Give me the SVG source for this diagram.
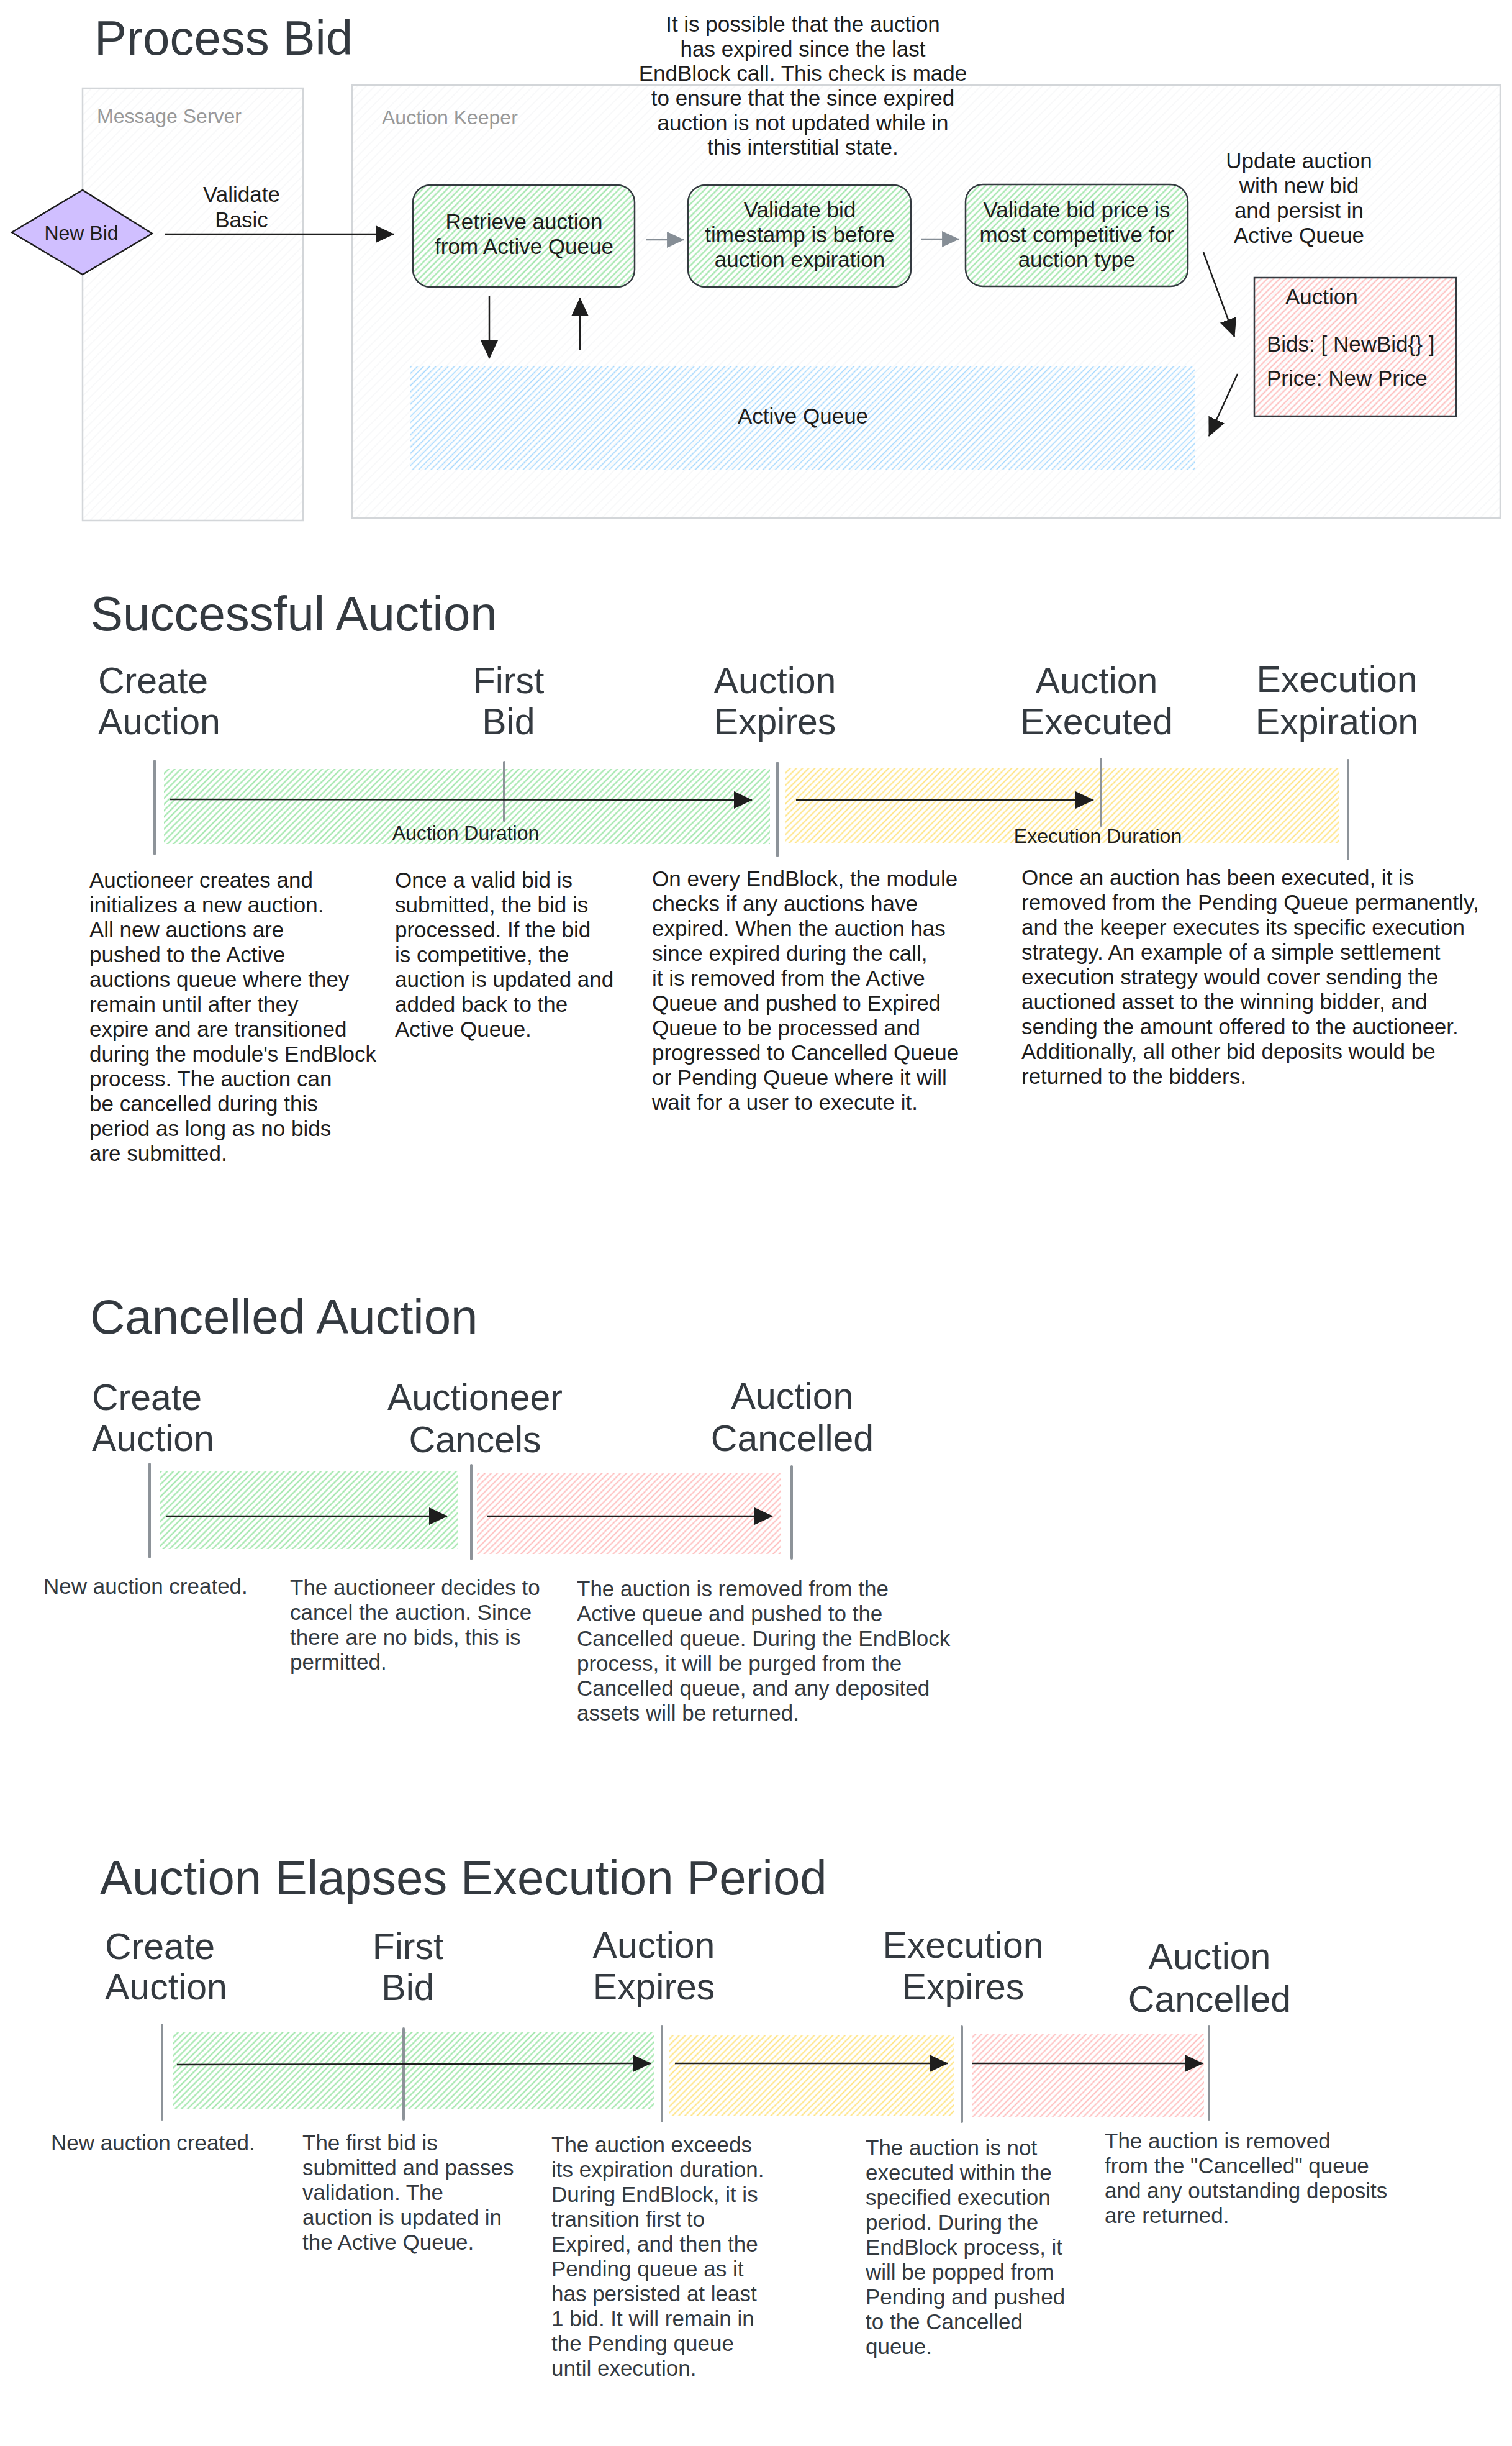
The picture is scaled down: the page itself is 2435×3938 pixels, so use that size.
<svg xmlns="http://www.w3.org/2000/svg" width="2435" height="3938" viewBox="0 0 2435 3938">
<defs>
<pattern id="hG" width="7" height="7" patternUnits="userSpaceOnUse" patternTransform="rotate(45)"><line x1="3.5" y1="0" x2="3.5" y2="7" stroke="#9fe6aa" stroke-width="2.2"/></pattern>
<pattern id="hR" width="7" height="7" patternUnits="userSpaceOnUse" patternTransform="rotate(45)"><line x1="3.5" y1="0" x2="3.5" y2="7" stroke="#ffbcbc" stroke-width="2"/></pattern>
<pattern id="hY" width="7" height="7" patternUnits="userSpaceOnUse" patternTransform="rotate(45)"><line x1="3.5" y1="0" x2="3.5" y2="7" stroke="#ffe37f" stroke-width="2"/></pattern>
<pattern id="hB" width="7" height="7" patternUnits="userSpaceOnUse" patternTransform="rotate(45)"><line x1="3.5" y1="0" x2="3.5" y2="7" stroke="#a5d8ff" stroke-width="1.6"/></pattern>
<pattern id="hK" width="10" height="10" patternUnits="userSpaceOnUse" patternTransform="rotate(45)"><line x1="5" y1="0" x2="5" y2="10" stroke="#f1f2f4" stroke-width="1"/></pattern>
<marker id="ah" viewBox="0 0 30 28" refX="29" refY="14" markerWidth="30" markerHeight="28" markerUnits="userSpaceOnUse" orient="auto"><path d="M0,0 L30,14 L0,28 Z" fill="#1e1e1e"/></marker>
<marker id="ahG" viewBox="0 0 30 28" refX="29" refY="14" markerWidth="30" markerHeight="26" markerUnits="userSpaceOnUse" orient="auto"><path d="M0,0 L30,14 L0,28 Z" fill="#868e96"/></marker>
<style>
text{font-family:"Liberation Sans",Arial,sans-serif;fill:#1e1e1e}
.ti{font-size:78px;fill:#343a40}
.hd{font-size:59px;fill:#343a40}
.bd{font-size:35px}
.lb{font-size:32px;fill:#999999}
.c{text-anchor:middle}
.dk{fill:#343a40}
.arr{fill:none;stroke:#1e1e1e;stroke-width:2.5;marker-end:url(#ah)}
.arrg{fill:none;stroke:#868e96;stroke-width:2.5;marker-end:url(#ahG)}
.tick{stroke:#8d9399;stroke-width:4;stroke-linecap:round}
.box{stroke:#343a40;stroke-width:2.5}
.lane{fill:url(#hK);stroke:#d3d6d9;stroke-width:2.5}
</style>
</defs>
<rect width="2435" height="3938" fill="#ffffff"/>

<!-- ===== Process Bid ===== -->
<text class="ti" x="152" y="88">Process Bid</text>

<g id="lane-message-server">
<rect class="lane" x="133" y="142" width="355" height="696"/>
<text class="lb" x="156" y="198">Message Server</text>
</g>
<g id="lane-auction-keeper">
<rect class="lane" x="567" y="137" width="1849" height="697"/>
<text class="lb" x="615" y="200">Auction Keeper</text>
</g>

<g id="note-expired">
<text class="bd c" x="1293" y="51">It is possible that the auction</text>
<text class="bd c" x="1293" y="91">has expired since the last</text>
<text class="bd c" x="1293" y="130">EndBlock call. This check is made</text>
<text class="bd c" x="1293" y="170">to ensure that the since expired</text>
<text class="bd c" x="1293" y="210">auction is not updated while in</text>
<text class="bd c" x="1293" y="249">this interstitial state.</text>
</g>

<g id="node-new-bid">
<polygon points="19,374 133,306 245,376 133,442" fill="#d0bfff" stroke="#1e1e1e" stroke-width="2.5"/>
<text class="c" x="131" y="386" font-size="32">New Bid</text>
</g>

<g id="label-validate-basic">
<text class="bd c" x="389" y="325">Validate</text>
<text class="bd c" x="389" y="366">Basic</text>
</g>

<g id="node-retrieve">
<rect class="box" x="665" y="298" width="357" height="164" rx="28" fill="url(#hG)"/>
<text class="bd c" x="844" y="369">Retrieve auction</text>
<text class="bd c" x="844" y="409">from Active Queue</text>
</g>

<g id="node-validate-timestamp">
<rect class="box" x="1108" y="298" width="359" height="164" rx="28" fill="url(#hG)"/>
<text class="bd c" x="1288" y="350">Validate bid</text>
<text class="bd c" x="1288" y="390">timestamp is before</text>
<text class="bd c" x="1288" y="430">auction expiration</text>
</g>

<g id="node-validate-price">
<rect class="box" x="1555" y="297" width="358" height="164" rx="28" fill="url(#hG)"/>
<text class="bd c" x="1734" y="350">Validate bid price is</text>
<text class="bd c" x="1734" y="390">most competitive for</text>
<text class="bd c" x="1734" y="430">auction type</text>
</g>

<g id="label-update">
<text class="bd c" x="2092" y="271">Update auction</text>
<text class="bd c" x="2092" y="311">with new bid</text>
<text class="bd c" x="2092" y="351">and persist in</text>
<text class="bd c" x="2092" y="391">Active Queue</text>
</g>

<g id="node-auction">
<rect class="box" x="2020" y="447" width="325" height="223" fill="url(#hR)"/>
<text class="bd" x="2070" y="490">Auction</text>
<text class="bd" x="2040" y="566">Bids: [ NewBid{} ]</text>
<text class="bd" x="2040" y="621">Price: New Price</text>
</g>

<g id="node-active-queue">
<rect x="661" y="590" width="1263" height="166" fill="url(#hB)"/>
<text class="bd c" x="1293" y="682">Active Queue</text>
</g>

<!-- ===== Successful Auction ===== -->
<text class="ti" x="146" y="1015">Successful Auction</text>

<g id="sa-band-auction">
<rect x="264" y="1238" width="976" height="121" fill="url(#hG)"/>
<text class="c" x="750" y="1352" font-size="32">Auction Duration</text>
</g>
<g id="sa-band-execution">
<rect x="1265" y="1237" width="892" height="120" fill="url(#hY)"/>
<text class="c" x="1768" y="1357" font-size="32">Execution Duration</text>
</g>

<g id="sa-create">
<text class="hd" x="158" y="1116">Create</text>
<text class="hd" x="158" y="1182">Auction</text>
<line class="tick" x1="249" y1="1225" x2="249" y2="1375"/>
<text class="bd" x="144" y="1429">Auctioneer creates and</text>
<text class="bd" x="144" y="1469">initializes a new auction.</text>
<text class="bd" x="144" y="1509">All new auctions are</text>
<text class="bd" x="144" y="1549">pushed to the Active</text>
<text class="bd" x="144" y="1589">auctions queue where they</text>
<text class="bd" x="144" y="1629">remain until after they</text>
<text class="bd" x="144" y="1669">expire and are transitioned</text>
<text class="bd" x="144" y="1709">during the module's EndBlock</text>
<text class="bd" x="144" y="1749">process. The auction can</text>
<text class="bd" x="144" y="1789">be cancelled during this</text>
<text class="bd" x="144" y="1829">period as long as no bids</text>
<text class="bd" x="144" y="1869">are submitted.</text>
</g>

<g id="sa-first-bid">
<text class="hd c" x="819" y="1116">First</text>
<text class="hd c" x="819" y="1182">Bid</text>
<line class="tick" x1="812" y1="1227" x2="812" y2="1321"/>
<text class="bd" x="636" y="1429">Once a valid bid is</text>
<text class="bd" x="636" y="1469">submitted, the bid is</text>
<text class="bd" x="636" y="1509">processed. If the bid</text>
<text class="bd" x="636" y="1549">is competitive, the</text>
<text class="bd" x="636" y="1589">auction is updated and</text>
<text class="bd" x="636" y="1629">added back to the</text>
<text class="bd" x="636" y="1669">Active Queue.</text>
</g>

<g id="sa-expires">
<text class="hd c" x="1248" y="1116">Auction</text>
<text class="hd c" x="1248" y="1182">Expires</text>
<line class="tick" x1="1252" y1="1228" x2="1252" y2="1378"/>
<text class="bd" x="1050" y="1427">On every EndBlock, the module</text>
<text class="bd" x="1050" y="1467">checks if any auctions have</text>
<text class="bd" x="1050" y="1507">expired. When the auction has</text>
<text class="bd" x="1050" y="1547">since expired during the call,</text>
<text class="bd" x="1050" y="1587">it is removed from the Active</text>
<text class="bd" x="1050" y="1627">Queue and pushed to Expired</text>
<text class="bd" x="1050" y="1667">Queue to be processed and</text>
<text class="bd" x="1050" y="1707">progressed to Cancelled Queue</text>
<text class="bd" x="1050" y="1747">or Pending Queue where it will</text>
<text class="bd" x="1050" y="1787">wait for a user to execute it.</text>
</g>

<g id="sa-executed">
<text class="hd c" x="1766" y="1116">Auction</text>
<text class="hd c" x="1766" y="1182">Executed</text>
<line class="tick" x1="1773" y1="1222" x2="1773" y2="1329"/>
<text class="bd" x="1645" y="1425">Once an auction has been executed, it is</text>
<text class="bd" x="1645" y="1465">removed from the Pending Queue permanently,</text>
<text class="bd" x="1645" y="1505">and the keeper executes its specific execution</text>
<text class="bd" x="1645" y="1545">strategy. An example of a simple settlement</text>
<text class="bd" x="1645" y="1585">execution strategy would cover sending the</text>
<text class="bd" x="1645" y="1625">auctioned asset to the winning bidder, and</text>
<text class="bd" x="1645" y="1665">sending the amount offered to the auctioneer.</text>
<text class="bd" x="1645" y="1705">Additionally, all other bid deposits would be</text>
<text class="bd" x="1645" y="1745">returned to the bidders.</text>
</g>

<g id="sa-execution-expiration">
<text class="hd c" x="2153" y="1114">Execution</text>
<text class="hd c" x="2153" y="1182">Expiration</text>
<line class="tick" x1="2171" y1="1224" x2="2171" y2="1383"/>
</g>

<!-- ===== Cancelled Auction ===== -->
<text class="ti" x="145" y="2147">Cancelled Auction</text>

<g id="ca-band-active"><rect x="258" y="2369" width="479" height="125" fill="url(#hG)"/></g>
<g id="ca-band-cancel"><rect x="768" y="2372" width="490" height="130" fill="url(#hR)"/></g>

<g id="ca-create">
<text class="hd" x="148" y="2270">Create</text>
<text class="hd" x="148" y="2336">Auction</text>
<line class="tick" x1="241" y1="2357" x2="241" y2="2507"/>
<text class="bd dk" x="70" y="2566">New auction created.</text>
</g>

<g id="ca-cancels">
<text class="hd c" x="765" y="2270">Auctioneer</text>
<text class="hd c" x="765" y="2338">Cancels</text>
<line class="tick" x1="759" y1="2359" x2="759" y2="2510"/>
<text class="bd dk" x="467" y="2568">The auctioneer decides to</text>
<text class="bd dk" x="467" y="2608">cancel the auction. Since</text>
<text class="bd dk" x="467" y="2648">there are no bids, this is</text>
<text class="bd dk" x="467" y="2688">permitted.</text>
</g>

<g id="ca-cancelled">
<text class="hd c" x="1276" y="2268">Auction</text>
<text class="hd c" x="1276" y="2336">Cancelled</text>
<line class="tick" x1="1275" y1="2361" x2="1275" y2="2509"/>
<text class="bd dk" x="929" y="2570">The auction is removed from the</text>
<text class="bd dk" x="929" y="2610">Active queue and pushed to the</text>
<text class="bd dk" x="929" y="2650">Cancelled queue. During the EndBlock</text>
<text class="bd dk" x="929" y="2690">process, it will be purged from the</text>
<text class="bd dk" x="929" y="2730">Cancelled queue, and any deposited</text>
<text class="bd dk" x="929" y="2770">assets will be returned.</text>
</g>

<!-- ===== Auction Elapses Execution Period ===== -->
<text class="ti" x="161" y="3050">Auction Elapses Execution Period</text>

<g id="ee-band-active"><rect x="278" y="3271" width="776" height="124" fill="url(#hG)"/></g>
<g id="ee-band-pending"><rect x="1077" y="3277" width="459" height="129" fill="url(#hY)"/></g>
<g id="ee-band-cancel"><rect x="1566" y="3274" width="373" height="135" fill="url(#hR)"/></g>

<g id="ee-create">
<text class="hd" x="169" y="3154">Create</text>
<text class="hd" x="169" y="3219">Auction</text>
<line class="tick" x1="261" y1="3260" x2="261" y2="3412"/>
<text class="bd dk" x="82" y="3462">New auction created.</text>
</g>

<g id="ee-first-bid">
<text class="hd c" x="657" y="3154">First</text>
<text class="hd c" x="657" y="3220">Bid</text>
<line class="tick" x1="650" y1="3266" x2="650" y2="3412"/>
<text class="bd dk" x="487" y="3462">The first bid is</text>
<text class="bd dk" x="487" y="3502">submitted and passes</text>
<text class="bd dk" x="487" y="3542">validation. The</text>
<text class="bd dk" x="487" y="3582">auction is updated in</text>
<text class="bd dk" x="487" y="3622">the Active Queue.</text>
</g>

<g id="ee-expires">
<text class="hd c" x="1053" y="3152">Auction</text>
<text class="hd c" x="1053" y="3219">Expires</text>
<line class="tick" x1="1066" y1="3263" x2="1066" y2="3415"/>
<text class="bd dk" x="888" y="3465">The auction exceeds</text>
<text class="bd dk" x="888" y="3505">its expiration duration.</text>
<text class="bd dk" x="888" y="3545">During EndBlock, it is</text>
<text class="bd dk" x="888" y="3585">transition first to</text>
<text class="bd dk" x="888" y="3625">Expired, and then the</text>
<text class="bd dk" x="888" y="3665">Pending queue as it</text>
<text class="bd dk" x="888" y="3705">has persisted at least</text>
<text class="bd dk" x="888" y="3745">1 bid. It will remain in</text>
<text class="bd dk" x="888" y="3785">the Pending queue</text>
<text class="bd dk" x="888" y="3825">until execution.</text>
</g>

<g id="ee-execution-expires">
<text class="hd c" x="1551" y="3152">Execution</text>
<text class="hd c" x="1551" y="3219">Expires</text>
<line class="tick" x1="1549" y1="3263" x2="1549" y2="3416"/>
<text class="bd dk" x="1394" y="3470">The auction is not</text>
<text class="bd dk" x="1394" y="3510">executed within the</text>
<text class="bd dk" x="1394" y="3550">specified execution</text>
<text class="bd dk" x="1394" y="3590">period. During the</text>
<text class="bd dk" x="1394" y="3630">EndBlock process, it</text>
<text class="bd dk" x="1394" y="3670">will be popped from</text>
<text class="bd dk" x="1394" y="3710">Pending and pushed</text>
<text class="bd dk" x="1394" y="3750">to the Cancelled</text>
<text class="bd dk" x="1394" y="3790">queue.</text>
</g>

<g id="ee-cancelled">
<text class="hd c" x="1948" y="3170">Auction</text>
<text class="hd c" x="1948" y="3239">Cancelled</text>
<line class="tick" x1="1947" y1="3263" x2="1947" y2="3412"/>
<text class="bd dk" x="1779" y="3459">The auction is removed</text>
<text class="bd dk" x="1779" y="3499">from the "Cancelled" queue</text>
<text class="bd dk" x="1779" y="3539">and any outstanding deposits</text>
<text class="bd dk" x="1779" y="3579">are returned.</text>
</g>

<!-- ===== Connectors ===== -->
<g id="connectors">
<path class="arr" d="M265,377 L634,377"/>
<path class="arrg" d="M1041,386 L1101,386"/>
<path class="arrg" d="M1483,385 L1544,385"/>
<path class="arr" d="M788,476 L788,577"/>
<path class="arr" d="M934,564 L934,480"/>
<path class="arr" d="M1938,406 L1988,542"/>
<path class="arr" d="M1993,602 L1947,702"/>
<path class="arr" d="M274,1287 L1211,1288"/>
<path class="arr" d="M1282,1288 L1761,1288"/>
<path class="arr" d="M268,2441 L720,2441"/>
<path class="arr" d="M785,2441 L1244,2441"/>
<path class="arr" d="M285,3324 L1048,3322"/>
<path class="arr" d="M1087,3322 L1526,3322"/>
<path class="arr" d="M1565,3322 L1937,3322"/>
</g>
</svg>
